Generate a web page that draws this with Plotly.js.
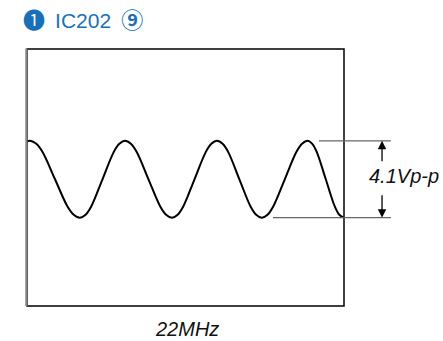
<!DOCTYPE html>
<html>
<head>
<meta charset="utf-8">
<script src="https://cdn.plot.ly/plotly-3.0.1.min.js"></script>
<style>html,body{margin:0;padding:0;background:#fff;}#chart{width:443px;height:341px;}</style>
</head>
<body>
<div id="chart"></div>
<script>
// Waveform: time (ns) and voltage (V)
var timeNs = [0, 1.5, 4.55, 7.6, 13.7, 19.8, 22.85, 25.9,
  28.65, 31.4, 36.9, 42.4, 45.15, 47.9,
  50.8, 53.65, 59.4, 65.15, 68.0, 70.9,
  73.65, 76.4, 81.9, 87.4, 90.15, 92.9,
  95.65, 98.4, 103.85, 109.3, 112.05, 114.8,
  117.6, 120.4, 126.05, 131.7, 134.5, 137.3,
  139.5, 141.7, 146.1, 150.5, 152.7, 154.9];
var voltage = [2.02, 2.05, 1.89, 1.45, 0, -1.45, -1.89, -2.05,
  -1.89, -1.45, 0, 1.45, 1.89, 2.05,
  1.89, 1.45, 0, -1.45, -1.89, -2.05,
  -1.89, -1.45, 0, 1.45, 1.89, 2.05,
  1.89, 1.45, 0, -1.45, -1.89, -2.05,
  -1.89, -1.45, 0, 1.45, 1.89, 2.05,
  1.89, 1.45, 0, -1.45, -1.89, -2.05];
var peakV = 2.05;
var troughV = -2.05;
var ppLabel = '4.1Vp-p';
var freqLabel = '22MHz';
var markA = '\u2776';
var chipName = 'IC202';
var markB = '\u2468';

var blue = '#1a70b8';
var font = 'Liberation Sans, Arial, DejaVu Sans, Noto Sans CJK JP, sans-serif';
var cjk = 'Noto Sans CJK JP';

var trace = {
  x: timeNs, y: voltage, type: 'scatter', mode: 'lines',
  line: {color: '#000', width: 2, shape: 'spline', smoothing: 1},
  hoverinfo: 'skip', cliponaxis: true
};

var gap = '\u2009 ';
var titleText = '<span style="font-family:' + cjk + ';font-size:22px">' + markA + '</span>' + gap + chipName + gap +
  '<b><span style="font-family:' + cjk + ';font-size:22px">' + markB + '</span></b>';

var layout = {
  width: 443, height: 341,
  margin: {l: 27, r: 99, t: 49, b: 35},
  paper_bgcolor: '#fff', plot_bgcolor: '#fff',
  showlegend: false,
  title: {text: titleText, x: 23/443, xref: 'container', xanchor: 'left', y: 1 - 21/341, yref: 'container', yanchor: 'middle',
    font: {family: font, size: 21, color: blue}},
  xaxis: {range: [0, 155], showgrid: false, zeroline: false, showticklabels: false, ticks: '', fixedrange: true},
  yaxis: {range: [-6.76, 6.95], showgrid: false, zeroline: false, showticklabels: false, ticks: '', fixedrange: true},
  shapes: [
    {type: 'rect', xref: 'paper', yref: 'paper', x0: 0, x1: 1, y0: 0, y1: 1, line: {color: '#000', width: 1.5}},
    {type: 'line', xref: 'paper', yref: 'paper', x0: -0.002, x1: -0.002, y0: 0, y1: 1.002, line: {color: '#888', width: 2.2}},
    {type: 'line', xref: 'paper', yref: 'y', x0: 0.921, x1: 1.148, y0: peakV, y1: peakV, line: {color: '#666', width: 1.3}},
    {type: 'line', xref: 'paper', yref: 'y', x0: 0.776, x1: 1.148, y0: troughV, y1: troughV, line: {color: '#666', width: 1.3}}
  ],
  annotations: [
    {xref: 'paper', yref: 'y', x: 1.12, y: peakV, ax: 0, ay: 22, text: '', showarrow: true,
      arrowhead: 2, arrowsize: 1.3, arrowwidth: 1.3, arrowcolor: '#000'},
    {xref: 'paper', yref: 'y', x: 1.12, y: troughV, ax: 0, ay: -24, text: '', showarrow: true,
      arrowhead: 2, arrowsize: 1.3, arrowwidth: 1.3, arrowcolor: '#000'},
    {xref: 'paper', yref: 'y', x: 1.189, y: 0.17, text: ppLabel, showarrow: false, xanchor: 'center', yanchor: 'middle',
      font: {family: font, size: 20, color: '#111', style: 'italic'}},
    {xref: 'paper', yref: 'paper', x: 0.505, y: -0.09, text: freqLabel, showarrow: false, xanchor: 'center', yanchor: 'middle',
      font: {family: font, size: 20, color: '#111', style: 'italic'}}
  ]
};

Plotly.newPlot('chart', [trace], layout, {displayModeBar: false, staticPlot: true});
</script>
</body>
</html>
